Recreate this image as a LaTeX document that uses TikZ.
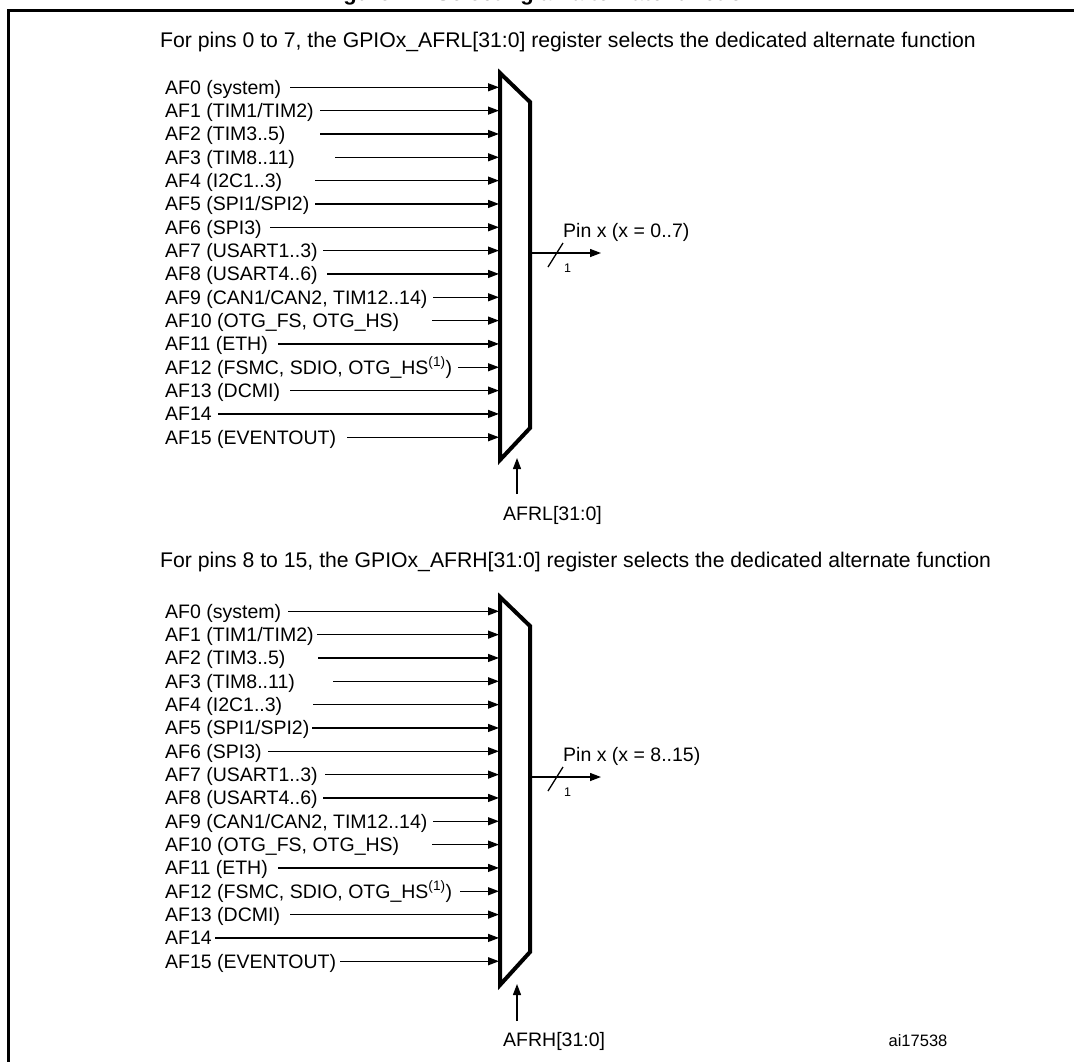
\documentclass[tikz,border=0pt]{standalone}
\usepackage{fontspec}
\setmainfont{Liberation Sans}
\usetikzlibrary{arrows.meta}
\newcommand\labfont{\fontsize{19.5}{23}\selectfont}
\newcommand\headfont{\fontsize{21.2}{25}\selectfont}
\newcommand\smallfnt{\fontsize{12.5}{14}\selectfont}
\newcommand\idfont{\fontsize{16.5}{19}\selectfont}
\begin{document}
\begin{tikzpicture}[x=1pt,y=-1pt,
  lab/.style={anchor=base west, inner sep=0pt, font=\labfont},
  headtxt/.style={anchor=base west, inner sep=0pt, font=\headfont},
  arr/.style={-{Triangle[length=11pt,width=8pt]}, line width=1.3pt},
  muxbox/.style={line width=4pt, line join=miter},
  thin/.style={line width=1.3pt}]
\useasboundingbox (0,0) rectangle (1074,1061);
% frame and cut title
\draw[line width=3pt] (8,1075) -- (8,10) -- (1085,10);
\node[anchor=base, inner sep=0pt, font=\bfseries\fontsize{22}{24}\selectfont] (title) at (540,0.5) {Figure 17. Selecting an alternate function};
% headings
\node[headtxt] (head1) at (160,47.5) {For pins 0 to 7, the GPIOx\_AFRL[31:0] register selects the dedicated alternate function};
\node[headtxt] (head2) at (160,567) {For pins 8 to 15, the GPIOx\_AFRH[31:0] register selects the dedicated alternate function};
% top multiplexer
\draw[muxbox] (500,73) -- (530,102) -- (530,428) -- (500,460) -- cycle;
\foreach \i/\txt/\sx in {
  0/{AF0 (system)}/290,
  1/{AF1 (TIM1/TIM2)}/320,
  2/{AF2 (TIM3..5)}/320,
  3/{AF3 (TIM8..11)}/335,
  4/{AF4 (I2C1..3)}/315,
  5/{AF5 (SPI1/SPI2)}/315,
  6/{AF6 (SPI3)}/270,
  7/{AF7 (USART1..3)}/323,
  8/{AF8 (USART4..6)}/327,
  9/{AF9 (CAN1/CAN2, TIM12..14)}/433,
  10/{AF10 (OTG\_FS, OTG\_HS)}/432,
  11/{AF11 (ETH)}/278,
  12/{AF12 (FSMC, SDIO, OTG\_HS\textsuperscript{(1)})}/458,
  13/{AF13 (DCMI)}/290,
  14/{AF14}/218,
  15/{AF15 (EVENTOUT)}/347}{
  \pgfmathsetmacro\yy{87.3+23.33*\i}
  \node[lab] (ta\i) at (165,\yy+7) {\txt};
  \coordinate (tas\i) at (\sx,\yy);
  \coordinate (tam\i) at (499,\yy);
  \draw[arr] (tas\i) -- (tam\i);
}
\coordinate (out1a) at (530,253);
\coordinate (out1b) at (601,253);
\draw[arr] (out1a) -- (out1b);
\draw[thin] (548,267) -- (563,243);
\node[lab] (pin1) at (563,237) {Pin x (x = 0..7)};
\node[inner sep=0pt, font=\smallfnt] (w1) at (567.5,268) {1};
\coordinate (sel1b) at (517,494);
\coordinate (sel1t) at (517,458);
\draw[arr] (sel1b) -- (sel1t);
\node[lab] (afrl) at (503,520) {AFRL[31:0]};
% bottom multiplexer
\draw[muxbox] (500,597) -- (530,626) -- (530,952) -- (500,985) -- cycle;
\foreach \i/\txt/\sx in {
  0/{AF0 (system)}/288,
  1/{AF1 (TIM1/TIM2)}/317,
  2/{AF2 (TIM3..5)}/318,
  3/{AF3 (TIM8..11)}/333,
  4/{AF4 (I2C1..3)}/313,
  5/{AF5 (SPI1/SPI2)}/312,
  6/{AF6 (SPI3)}/268,
  7/{AF7 (USART1..3)}/325,
  8/{AF8 (USART4..6)}/323,
  9/{AF9 (CAN1/CAN2, TIM12..14)}/433,
  10/{AF10 (OTG\_FS, OTG\_HS)}/432,
  11/{AF11 (ETH)}/278,
  12/{AF12 (FSMC, SDIO, OTG\_HS\textsuperscript{(1)})}/460,
  13/{AF13 (DCMI)}/290,
  14/{AF14}/215,
  15/{AF15 (EVENTOUT)}/340}{
  \pgfmathsetmacro\yy{611.3+23.33*\i}
  \node[lab] (tb\i) at (165,\yy+7) {\txt};
  \coordinate (tbs\i) at (\sx,\yy);
  \coordinate (tbm\i) at (499,\yy);
  \draw[arr] (tbs\i) -- (tbm\i);
}
\coordinate (out2a) at (530,777);
\coordinate (out2b) at (601,777);
\draw[arr] (out2a) -- (out2b);
\draw[thin] (548,791) -- (563,767);
\node[lab] (pin2) at (563,761) {Pin x (x = 8..15)};
\node[inner sep=0pt, font=\smallfnt] (w2) at (567.5,792) {1};
\coordinate (sel2b) at (517,1021);
\coordinate (sel2t) at (517,984);
\draw[arr] (sel2b) -- (sel2t);
\node[lab] (afrh) at (503,1046) {AFRH[31:0]};
\node[anchor=base, inner sep=0pt, font=\idfont] (id) at (918,1046) {ai17538};
\end{tikzpicture}
\end{document}
